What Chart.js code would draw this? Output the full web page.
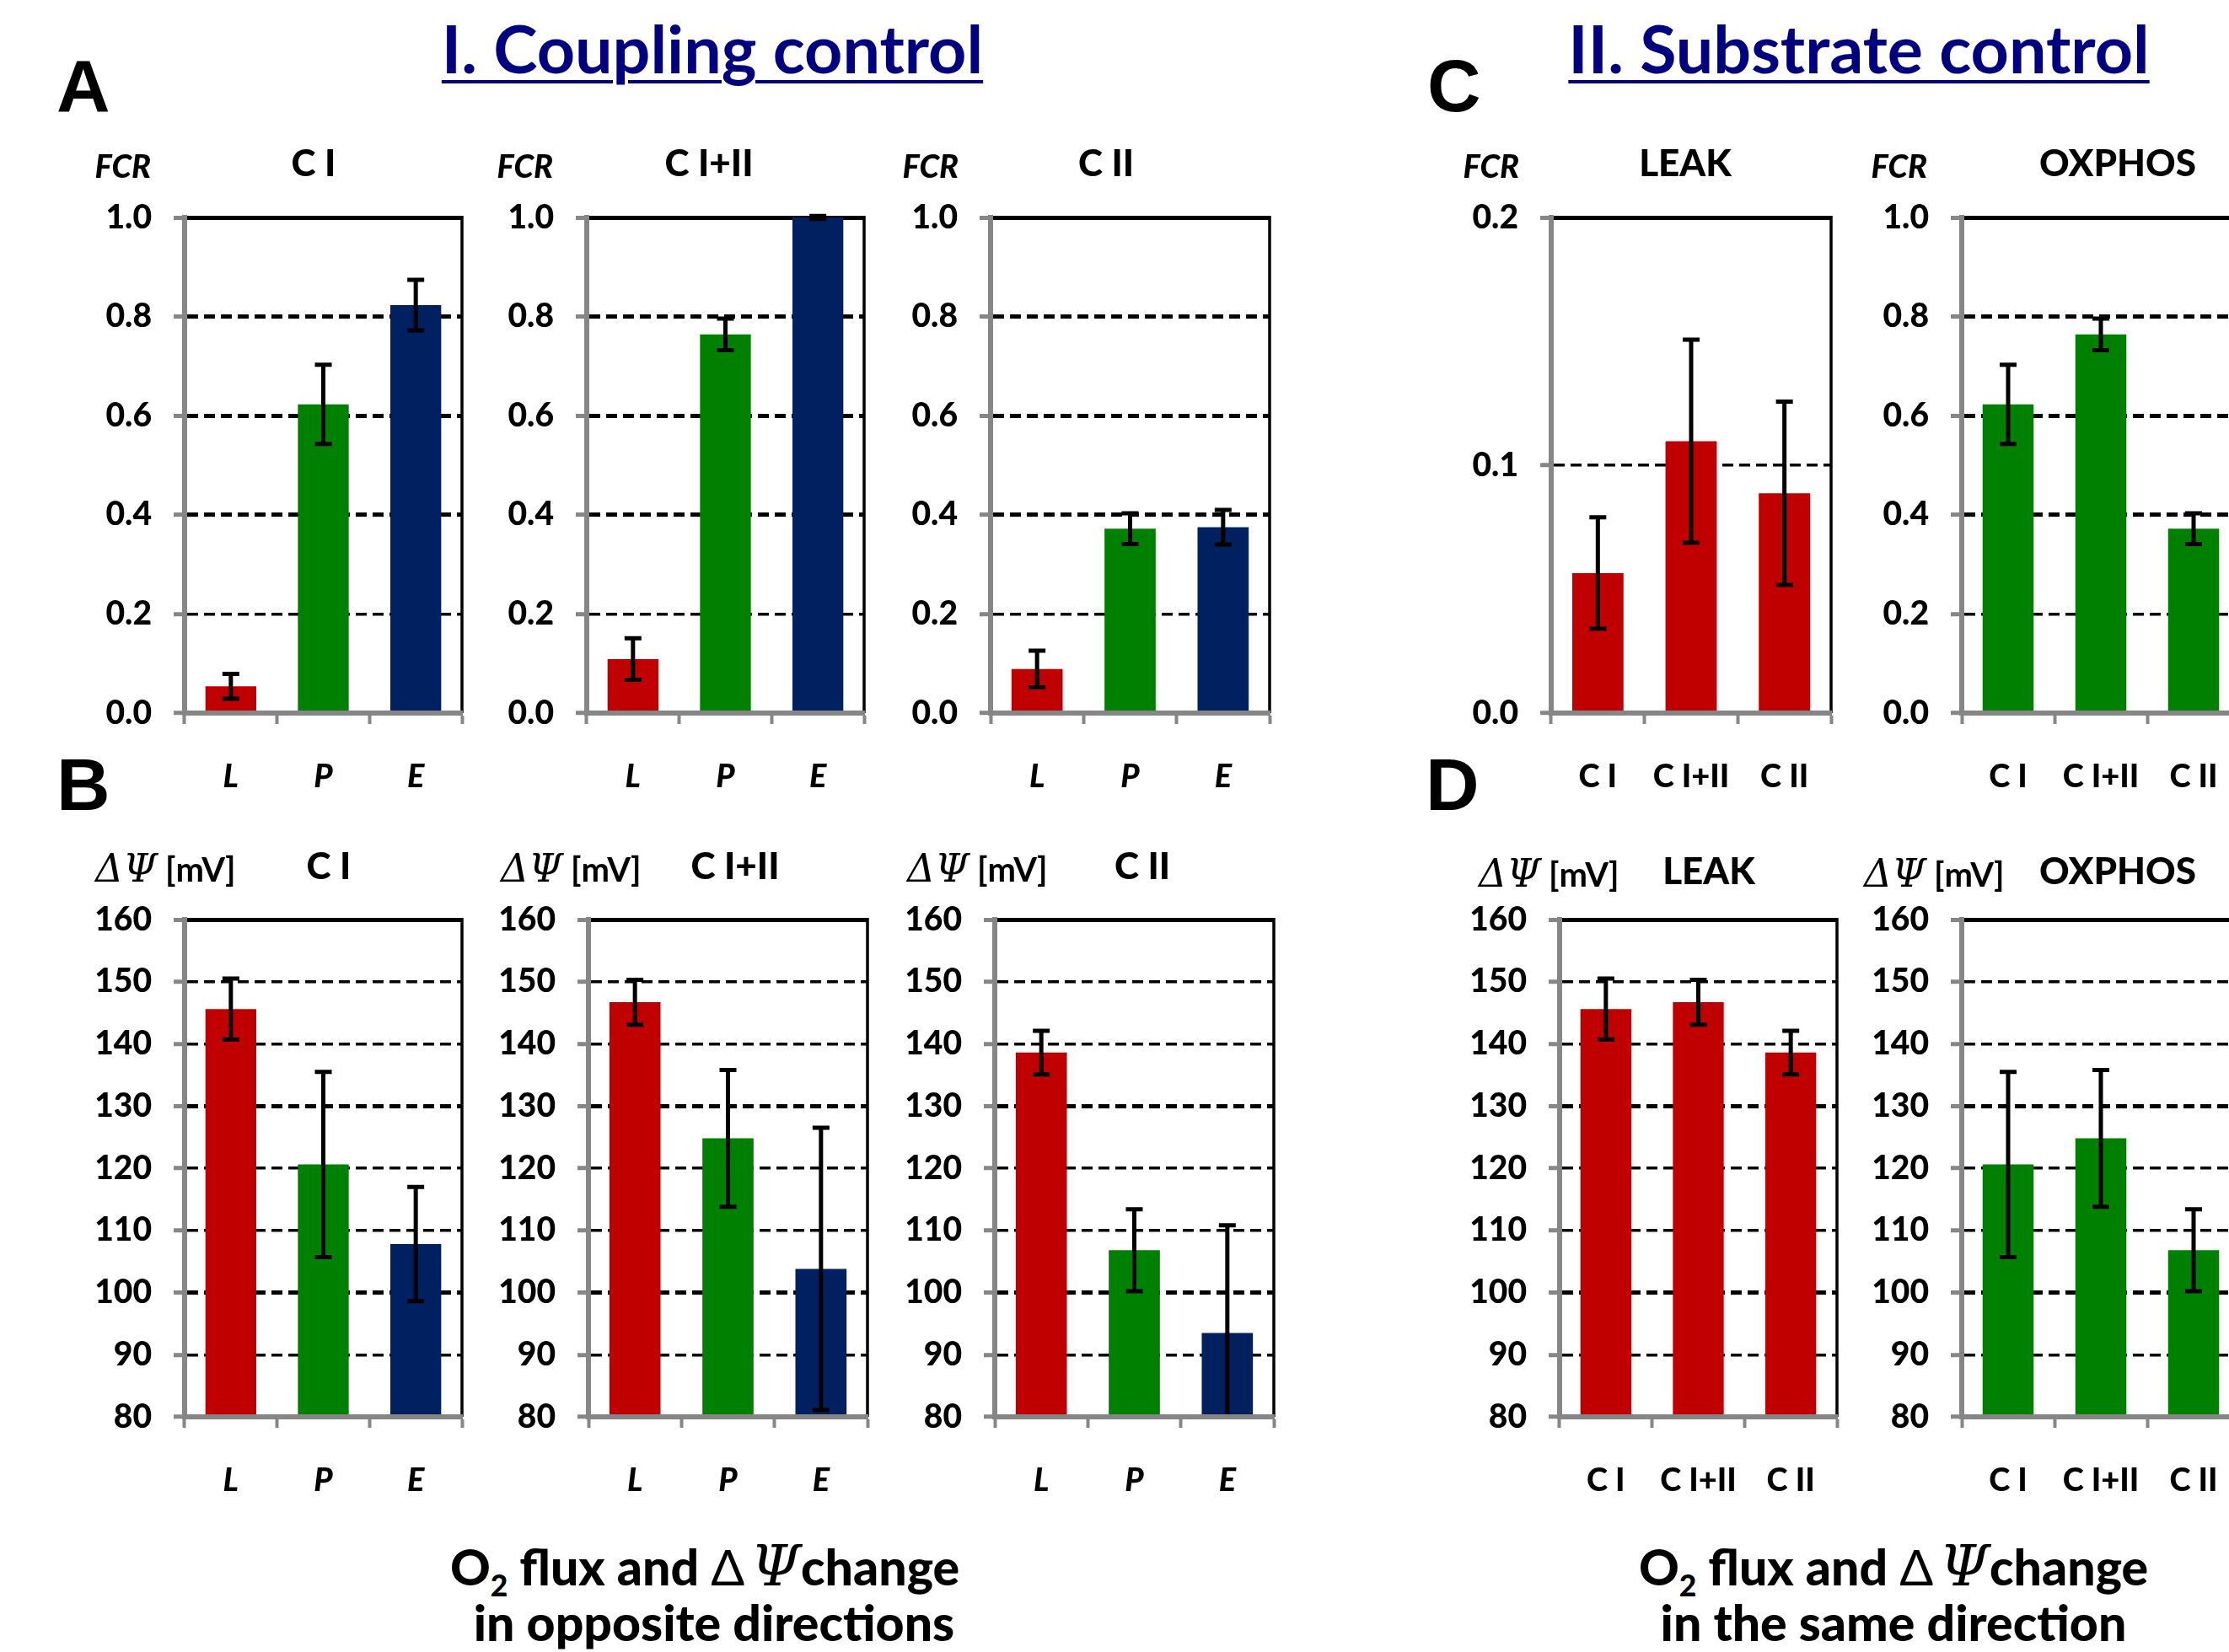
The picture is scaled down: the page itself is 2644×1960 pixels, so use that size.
<!DOCTYPE html>
<html>
<head>
<meta charset="utf-8">
<script src="https://cdn.jsdelivr.net/npm/chart.js@4.4.0/dist/chart.umd.min.js"></script>
<style>
  html, body { margin: 0; padding: 0; background: #fff; }
  body { width: 2644px; height: 1960px; position: relative; overflow: hidden; font-family: Lato, "Open Sans", sans-serif; }
  .panel { position: absolute; }
  .t { position: absolute; white-space: nowrap; line-height: 1; color: #000; font-weight: 900; }
  .head { color: #000080; font-weight: bold; text-decoration: underline; text-decoration-thickness: 4px; text-underline-offset: 8px; }
  .letter { font-family: "Liberation Sans", Arial, sans-serif; font-weight: bold; }
  .greek { font-family: "DejaVu Serif", serif; font-style: italic; font-weight: normal; font-size: 1.15em; }
  .unit { font-weight: bold; }
</style>
</head>
<body>
<script>
// category labels
var fcrLabels = ['L', 'P', 'E'];
var pathwayLabels = ['C I', 'C I+II', 'C II'];

// y tick values
var fcrTicks = [0, 0.2, 0.4, 0.6, 0.8, 1.0];
var leakTicks = [0, 0.1, 0.2];
var mvTicks = [80, 90, 100, 110, 120, 130, 140, 150, 160];

// A: flux control ratios (mean, +/- error)
var fcrCI = [0.054, 0.623, 0.823];
var fcrCIErr = [0.025, 0.080, 0.051];
var fcrCIII = [0.109, 0.764, 1.0];
var fcrCIIIErr = [0.042, 0.032, 0.003];
var fcrCII = [0.089, 0.372, 0.375];
var fcrCIIErr = [0.037, 0.031, 0.035];

// C: flux control ratios by pathway
var fcrLeak = [0.0565, 0.1097, 0.0887];
var fcrLeakErr = [0.0225, 0.041, 0.037];
var fcrOxphos = [0.623, 0.764, 0.372];
var fcrOxphosErr = [0.080, 0.032, 0.031];

// B: membrane potential [mV]
var mvCI = [145.6, 120.6, 107.8];
var mvCIErr = [4.9, 14.9, 9.2];
var mvCIII = [146.7, 124.8, 103.8];
var mvCIIIErr = [3.6, 11.0, 22.7];
var mvCII = [138.6, 106.8, 93.5];
var mvCIIErr = [3.5, 6.6, 17.3];

// D: membrane potential by pathway
var mvLeak = [145.6, 146.7, 138.6];
var mvLeakErr = [4.9, 3.6, 3.5];
var mvOxphos = [120.6, 124.8, 106.8];
var mvOxphosErr = [14.9, 11.0, 6.6];

var RED = '#C00000', GREEN = '#008000', NAVY = '#002060', GRAY = '#868686';
var statesColors = [RED, GREEN, NAVY];

// space around the plot area inside each canvas
var AXIS_W = 150, PAD_TOP = 55, PAD_RIGHT = 20, XAXIS_H = 110;

// draws the right frame line and the error bars
var errorBarPlugin = {
  id: 'errorBars',
  afterDatasetsDraw: function(chart) {
    var ctx = chart.ctx;
    var area = chart.chartArea;
    var yScale = chart.scales.y;
    var ds = chart.data.datasets[0];
    var meta = chart.getDatasetMeta(0);

    ctx.save();
    ctx.strokeStyle = '#000';
    ctx.lineWidth = 3.5;
    ctx.beginPath();
    ctx.moveTo(area.right, area.top - 2);
    ctx.lineTo(area.right, area.bottom);
    ctx.stroke();

    ctx.beginPath();
    ctx.rect(area.left, area.top - 12, area.right - area.left, area.bottom - area.top + 12 - 3);
    ctx.clip();
    ctx.lineWidth = 5;
    for (var i = 0; i < meta.data.length; i++) {
      var x = meta.data[i].x;
      var hi = yScale.getPixelForValue(ds.data[i] + ds.errors[i]);
      var lo = yScale.getPixelForValue(ds.data[i] - ds.errors[i]);
      ctx.beginPath();
      ctx.moveTo(x, hi); ctx.lineTo(x, lo);
      ctx.moveTo(x - 10, hi); ctx.lineTo(x + 10, hi);
      ctx.moveTo(x - 10, lo); ctx.lineTo(x + 10, lo);
      ctx.stroke();
    }
    ctx.restore();
  }
};

function isMax(c) {
  return c.tick && Math.abs(c.tick.value - c.scale.max) < 1e-9;
}
function isMin(c) {
  return c.tick && Math.abs(c.tick.value - c.scale.min) < 1e-9;
}

function makePanel(box, labels, values, errors, colors, ticks, decimals, thick) {
  var holder = document.createElement('div');
  holder.className = 'panel';
  holder.style.left = (box[0] - AXIS_W) + 'px';
  holder.style.top = (box[1] - PAD_TOP) + 'px';
  var canvas = document.createElement('canvas');
  canvas.width = box[2] + AXIS_W + PAD_RIGHT;
  canvas.height = box[3] + PAD_TOP + XAXIS_H;
  holder.appendChild(canvas);
  document.body.appendChild(holder);

  new Chart(canvas.getContext('2d'), {
    type: 'bar',
    data: {
      labels: labels,
      datasets: [{
        data: values,
        errors: errors,
        backgroundColor: colors,
        barPercentage: 0.55,
        categoryPercentage: 1.0
      }]
    },
    plugins: [errorBarPlugin],
    options: {
      responsive: false,
      animation: false,
      events: [],
      layout: { padding: { top: PAD_TOP, right: PAD_RIGHT, left: 0, bottom: 0 } },
      plugins: { legend: { display: false }, tooltip: { enabled: false } },
      scales: {
        x: {
          type: 'category',
          offset: true,
          grid: { offset: true, drawOnChartArea: false, drawTicks: true, tickLength: 13, tickWidth: 4, tickColor: GRAY, color: GRAY },
          border: { color: GRAY, width: 6, z: 1 },
          ticks: { color: '#000', padding: 40, maxRotation: 0, autoSkip: false,
                   font: { family: 'Lato', weight: '900', size: 38, style: labels === fcrLabels ? 'italic' : 'normal' } },
          afterFit: function(s) { s.height = XAXIS_H; }
        },
        y: {
          min: ticks[0],
          max: ticks[ticks.length - 1],
          afterBuildTicks: function(s) { s.ticks = ticks.map(function(v) { return { value: v }; }); },
          grid: {
            drawTicks: true, tickLength: 13, tickWidth: 5, tickColor: GRAY,
            color: function(c) { return isMin(c) ? 'rgba(0,0,0,0)' : '#000'; },
            lineWidth: function(c) {
              if (isMax(c)) return 5;
              return c.tick && thick.indexOf(c.tick.value) >= 0 ? 5 : 3.5;
            }
          },
          border: { color: GRAY, width: 6, z: 1,
                    dash: function(c) { return (!c.tick || isMax(c)) ? [] : [13, 7]; } },
          ticks: { color: '#000', padding: 26,
                   font: { family: 'Lato', weight: '900', size: 39 },
                   callback: function(v) { return Number(v).toFixed(decimals); } },
          afterFit: function(s) { s.width = AXIS_W; }
        }
      }
    }
  });
}

// plot areas: left, top, width, height
makePanel([219, 258, 329, 588], fcrLabels, fcrCI, fcrCIErr, statesColors, fcrTicks, 1, [0.4, 0.6, 0.8]);
makePanel([696, 258, 329, 588], fcrLabels, fcrCIII, fcrCIIIErr, statesColors, fcrTicks, 1, [0.4, 0.6, 0.8]);
makePanel([1175, 258, 331, 588], fcrLabels, fcrCII, fcrCIIErr, statesColors, fcrTicks, 1, [0.4, 0.6, 0.8]);
makePanel([1840, 258, 332, 588], pathwayLabels, fcrLeak, fcrLeakErr, [RED, RED, RED], leakTicks, 1, []);
makePanel([2327, 258, 330, 588], pathwayLabels, fcrOxphos, fcrOxphosErr, [GREEN, GREEN, GREEN], fcrTicks, 1, [0.4, 0.6, 0.8]);

makePanel([219, 1091, 329, 590], fcrLabels, mvCI, mvCIErr, statesColors, mvTicks, 0, [100, 130]);
makePanel([698, 1091, 331, 590], fcrLabels, mvCIII, mvCIIIErr, statesColors, mvTicks, 0, [100, 130]);
makePanel([1180, 1091, 331, 590], fcrLabels, mvCII, mvCIIErr, statesColors, mvTicks, 0, [100, 130]);
makePanel([1850, 1091, 329, 590], pathwayLabels, mvLeak, mvLeakErr, [RED, RED, RED], mvTicks, 0, [100, 130]);
makePanel([2327, 1091, 330, 590], pathwayLabels, mvOxphos, mvOxphosErr, [GREEN, GREEN, GREEN], mvTicks, 0, [100, 130]);

// text overlay; y is the baseline
var LATO_ASC = 0.87;
function addText(html, x, y, size, align, cls) {
  var d = document.createElement('div');
  d.className = 't ' + (cls || '');
  d.innerHTML = html;
  d.style.fontSize = size + 'px';
  d.style.top = (y - LATO_ASC * size) + 'px';
  d.style.left = x + 'px';
  if (align === 'center') d.style.transform = 'translateX(-50%)';
  if (align === 'right') d.style.transform = 'translateX(-100%)';
  document.body.appendChild(d);
}

addText('I. Coupling control', 845, 86, 79, 'center', 'head');
addText('II. Substrate control', 2205, 86, 79, 'center', 'head');

addText('A', 67, 135, 88, 'left', 'letter');
addText('B', 67, 964, 88, 'left', 'letter');
addText('C', 1693, 135, 88, 'left', 'letter');
addText('D', 1691, 964, 88, 'left', 'letter');

var fcr = '<i>FCR</i>';
addText(fcr, 179, 210, 38, 'right');
addText(fcr, 656, 210, 38, 'right');
addText(fcr, 1137, 210, 38, 'right');
addText(fcr, 1802, 210, 38, 'right');
addText(fcr, 2286, 210, 38, 'right');
addText('C I', 372, 208, 44, 'center');
addText('C I+II', 841, 208, 44, 'center');
addText('C II', 1312, 208, 44, 'center');
addText('LEAK', 1999, 208, 44, 'center');
addText('OXPHOS', 2512, 208, 44, 'center');

var dpsi = '<span class="greek">&Delta;&Psi;</span> <span class="unit">[mV]</span>';
addText(dpsi, 113, 1042, 40, 'left');
addText(dpsi, 594, 1042, 40, 'left');
addText(dpsi, 1076, 1042, 40, 'left');
addText(dpsi, 1754, 1048, 40, 'left');
addText(dpsi, 2211, 1048, 40, 'left');
addText('C I', 390, 1042, 44, 'center');
addText('C I+II', 872, 1042, 44, 'center');
addText('C II', 1355, 1042, 44, 'center');
addText('LEAK', 2027, 1048, 44, 'center');
addText('OXPHOS', 2512, 1048, 44, 'center');

var cap1 = 'O<sub style="font-size:0.6em">2</sub> flux and <span style="font-weight:normal">&Delta;</span>&thinsp;<span class="greek">&Psi;</span>change';
addText(cap1, 836, 1875, 59, 'center');
addText('in opposite directions', 847, 1946, 59, 'center');
addText(cap1, 2246, 1875, 59, 'center');
addText('in the same direction', 2246, 1946, 59, 'center');
</script>
</body>
</html>
